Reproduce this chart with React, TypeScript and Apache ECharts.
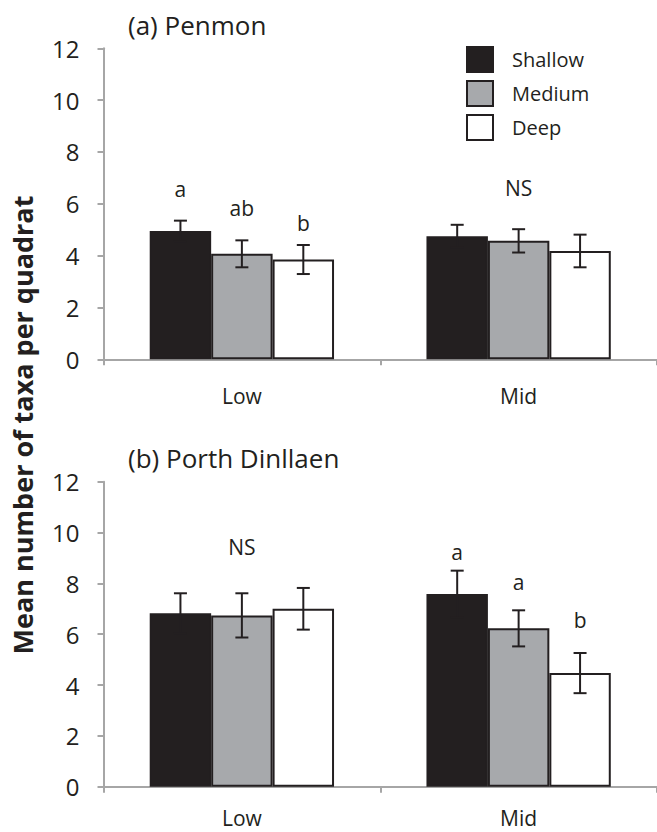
import React, { useEffect, useRef } from "react";
import * as echarts from "echarts";

const categories = ["Low", "Mid"];
const depths = ["Shallow", "Medium", "Deep"];
const depthColors = ["#231f20", "#a7a9ac", "#ffffff"];

// Panel (a) Penmon: means and standard errors per depth, for [Low, Mid]
const penmonMean = [
  [4.95, 4.75],
  [4.07, 4.57],
  [3.85, 4.18],
];
const penmonSE = [
  [0.4, 0.44],
  [0.52, 0.45],
  [0.56, 0.63],
];

// Panel (b) Porth Dinllaen
const porthMean = [
  [6.82, 7.58],
  [6.74, 6.23],
  [7.0, 4.47],
];
const porthSE = [
  [0.79, 0.92],
  [0.87, 0.71],
  [0.82, 0.79],
];

// Significance letters: text, category index, depth slot (1 = group centre), y value
const penmonLetters = ["a", "ab", "b", "NS"];
const penmonLetterCat = [0, 0, 0, 1];
const penmonLetterSlot = [0, 1, 2, 1];
const penmonLetterY = [6.57, 5.84, 5.27, 6.61];

const porthLetters = ["NS", "a", "a", "b"];
const porthLetterCat = [0, 1, 1, 1];
const porthLetterSlot = [1, 0, 1, 2];
const porthLetterY = [9.44, 9.24, 8.06, 6.56];

const yTicks = [0, 2, 4, 6, 8, 10, 12];

const FONT = '"Open Sans", "Noto Sans", sans-serif';
const INK = "#231f20";
const AXIS = "#a6a6a6";
const CAT_GAP = 0.334;

export default function App() {
  const ref = useRef<HTMLDivElement>(null);

  useEffect(() => {
    if (!ref.current) return;
    const chart = echarts.init(ref.current, undefined, { renderer: "svg" });

    const grids = [
      { left: 103.5, top: 48.3, right: -5, height: 311 },
      { left: 103.5, top: 481.7, right: -5, height: 305 },
    ];
    const labelMargins = [26, 20];

    const xAxes = grids.map((_, i) => ({
      type: "category",
      gridIndex: i,
      data: categories,
      axisLine: { lineStyle: { color: AXIS, width: 2 } },
      axisTick: { show: true, length: 6, lineStyle: { color: AXIS, width: 2 } },
      axisLabel: { fontSize: 21, lineHeight: 22, color: INK, fontFamily: FONT, margin: labelMargins[i] },
    }));

    const yAxes = grids.map((_, i) => ({
      type: "value",
      gridIndex: i,
      min: yTicks[0],
      max: yTicks[yTicks.length - 1],
      interval: yTicks[1] - yTicks[0],
      splitLine: { show: false },
      axisLine: { show: true, lineStyle: { color: AXIS, width: 2 } },
      axisTick: { show: true, length: 6, lineStyle: { color: AXIS, width: 2 } },
      axisLabel: { fontSize: 24, color: INK, fontFamily: FONT, margin: 24 },
    }));

    const panels = [
      { mean: penmonMean, se: penmonSE, letters: penmonLetters, lCat: penmonLetterCat, lSlot: penmonLetterSlot, lY: penmonLetterY },
      { mean: porthMean, se: porthSE, letters: porthLetters, lCat: porthLetterCat, lSlot: porthLetterSlot, lY: porthLetterY },
    ];

    const series: any[] = [];
    panels.forEach((p, gi) => {
      depths.forEach((d, di) => {
        series.push({
          type: "bar",
          name: d,
          xAxisIndex: gi,
          yAxisIndex: gi,
          data: p.mean[di],
          barGap: "0%",
          barCategoryGap: CAT_GAP * 100 + "%",
          itemStyle: { color: depthColors[di], borderColor: INK, borderWidth: 2 },
          z: 2,
        });
      });
      const errData: number[][] = [];
      depths.forEach((_, di) => {
        categories.forEach((_, ci) => {
          errData.push([ci, di, p.mean[di][ci], p.se[di][ci]]);
        });
      });
      series.push({
        type: "custom",
        xAxisIndex: gi,
        yAxisIndex: gi,
        data: errData,
        encode: { x: 0, y: 2 },
        z: 5,
        silent: true,
        renderItem: (params: any, api: any) => {
          const cat = api.value(0);
          const slot = api.value(1);
          const m = api.value(2);
          const s = api.value(3);
          const band = api.size([1, 0])[0];
          const bw = (band * (1 - CAT_GAP)) / 3;
          const cx = api.coord([cat, 0])[0] + (slot - 1) * bw;
          const yT = api.coord([cat, m + s])[1];
          const yB = api.coord([cat, m - s])[1];
          const style = { stroke: INK, lineWidth: 2 };
          const hw = 6.5;
          return {
            type: "group",
            children: [
              { type: "line", shape: { x1: cx, y1: yT, x2: cx, y2: yB }, style },
              { type: "line", shape: { x1: cx - hw, y1: yT, x2: cx + hw, y2: yT }, style },
              { type: "line", shape: { x1: cx - hw, y1: yB, x2: cx + hw, y2: yB }, style },
            ],
          };
        },
      });
      const letterData = p.letters.map((_, i) => [p.lCat[i], p.lSlot[i], p.lY[i]]);
      series.push({
        type: "custom",
        xAxisIndex: gi,
        yAxisIndex: gi,
        data: letterData,
        encode: { x: 0, y: 2 },
        z: 6,
        silent: true,
        renderItem: (params: any, api: any) => {
          const cat = api.value(0);
          const slot = api.value(1);
          const y = api.value(2);
          const band = api.size([1, 0])[0];
          const bw = (band * (1 - CAT_GAP)) / 3;
          const pt = api.coord([cat, y]);
          return {
            type: "text",
            x: pt[0] + (slot - 1) * bw,
            y: pt[1],
            style: {
              text: p.letters[params.dataIndex],
              font: `21px ${FONT}`,
              fill: INK,
              textAlign: "center",
              textVerticalAlign: "middle",
            },
          };
        },
      });
    });

    chart.setOption({
      animation: false,
      backgroundColor: "#ffffff",
      grid: grids,
      xAxis: xAxes,
      yAxis: yAxes,
      legend: {
        data: depths,
        orient: "vertical",
        left: 466,
        top: 46,
        padding: 0,
        itemWidth: 26,
        itemHeight: 25,
        itemGap: 7,
        icon: "rect",
        selectedMode: false,
        itemStyle: { borderColor: INK, borderWidth: 2 },
        textStyle: { fontSize: 20, lineHeight: 20, color: INK, fontFamily: FONT, padding: [0, 0, 0, 14] },
      },
      graphic: [
        {
          type: "text",
          left: 128,
          top: 12,
          style: { text: "(a) Penmon", font: `26px ${FONT}`, fill: INK },
        },
        {
          type: "text",
          left: 128,
          top: 445,
          style: { text: "(b) Porth Dinllaen", font: `26px ${FONT}`, fill: INK },
        },
        {
          type: "text",
          x: 22,
          y: 425,
          rotation: Math.PI / 2,
          style: {
            text: "Mean number of taxa per quadrat",
            font: `bold 27px ${FONT}`,
            fill: INK,
            textAlign: "center",
            textVerticalAlign: "middle",
          },
        },
      ],
      series,
    });

    return () => chart.dispose();
  }, []);

  return (
    <div
      ref={ref}
      style={{ position: "absolute", left: 0, top: 0, width: 657, height: 832, background: "#fff" }}
    />
  );
}
